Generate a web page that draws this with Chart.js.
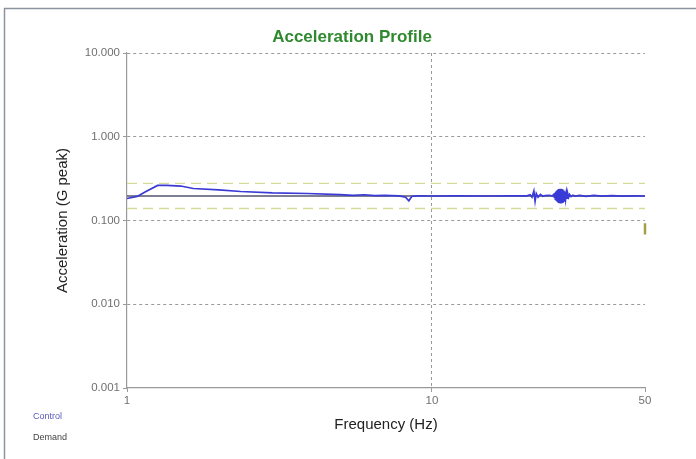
<!DOCTYPE html>
<html>
<head>
<meta charset="utf-8">
<script src="https://cdn.jsdelivr.net/npm/chart.js@4"></script>
<style>
  html, body { margin: 0; padding: 0; background: #fff; }
  canvas { display: block; }
</style>
</head>
<body>
<canvas id="profile" width="696" height="459"></canvas>
<script>
// ---------- DATA ----------
const controlFreq = [1.0, 1.08, 1.15, 1.26, 1.35, 1.5, 1.65, 2.0, 2.36, 3.0, 3.9, 5.0,
  5.5, 6.0, 6.5, 7.0, 7.8, 8.2, 8.4, 8.6, 9.0, 10, 12, 15, 18,
  20.5, 21.0, 21.3, 21.6, 21.8, 22.0, 22.3, 22.7, 23.1, 23.5, 24.3, 24.8,
  25.1, 25.2, 25.3, 25.4, 25.5, 25.6, 25.7, 25.8, 25.9, 26.0, 26.1, 26.2, 26.3, 26.4,
  26.5, 26.6, 26.7, 26.8, 26.9, 27.0, 27.1, 27.2, 27.3, 27.45, 27.6, 27.75, 27.9, 28.1, 28.3, 28.6,
  29.0, 29.5, 30.5, 32, 34, 36, 39, 42, 46, 50];
const controlAcc = [0.183, 0.194, 0.22, 0.262, 0.262, 0.258, 0.241, 0.232, 0.222, 0.214, 0.21, 0.204,
  0.2, 0.203, 0.198, 0.2, 0.197, 0.19, 0.172, 0.195, 0.197, 0.196, 0.197, 0.196, 0.197,
  0.197, 0.203, 0.19, 0.225, 0.17, 0.21, 0.19, 0.205, 0.195, 0.198, 0.2, 0.196,
  0.205, 0.19, 0.215, 0.18, 0.222, 0.175, 0.228, 0.17, 0.234, 0.166, 0.238, 0.164, 0.24, 0.163,
  0.24, 0.164, 0.238, 0.166, 0.234, 0.17, 0.228, 0.175, 0.222, 0.18, 0.215, 0.185, 0.21, 0.19, 0.205, 0.193,
  0.2, 0.196, 0.2, 0.194, 0.199, 0.195, 0.198, 0.195, 0.197, 0.196];

const demandFreq = [1, 50];
const demandAcc = [0.196, 0.196];
const upperAcc = [0.277, 0.277];
const lowerAcc = [0.139, 0.139];

const markFreq = [50, 50];
const markAcc = [0.093, 0.068];

const yTicks = [0.001, 0.01, 0.1, 1, 10];
const xTicks = [1, 10, 50];

const legendNames = ["Control", "Demand"];

// ---------- HELPERS ----------
function toPoints(xs, ys) {
  return xs.map((x, i) => ({ x: x, y: ys[i] }));
}

const GRID_GRAY = "#9a9a9a";
const TICK_GRAY = "#707070";

// frame, title and little text legend drawn straight on the canvas
const decorPlugin = {
  id: "decor",
  beforeDraw(chart) {
    const ctx = chart.ctx;
    ctx.save();
    ctx.fillStyle = "#fff";
    ctx.fillRect(0, 0, chart.width, chart.height);
    ctx.strokeStyle = "#8a94a0";
    ctx.lineWidth = 1.5;
    ctx.beginPath();
    ctx.moveTo(4.5, chart.height);
    ctx.lineTo(4.5, 8.5);
    ctx.lineTo(chart.width, 8.5);
    ctx.stroke();
    ctx.restore();
  },
  afterDraw(chart) {
    const ctx = chart.ctx;
    ctx.save();
    ctx.textAlign = "center";
    ctx.textBaseline = "middle";
    ctx.font = "bold 17px 'Liberation Sans', Arial, sans-serif";
    ctx.fillStyle = "#2f8a2f";
    ctx.fillText("Acceleration Profile", 352, 37);

    ctx.textAlign = "left";
    ctx.font = "9px 'Liberation Sans', Arial, sans-serif";
    ctx.fillStyle = "#5a5ac0";
    ctx.fillText(legendNames[0], 33, 417);
    ctx.fillStyle = "#444";
    ctx.fillText(legendNames[1], 33, 438);
    ctx.restore();
  }
};

// ---------- CHART ----------
const ctx = document.getElementById("profile").getContext("2d");
new Chart(ctx, {
  type: "scatter",
  data: {
    datasets: [
      {
        label: "Control",
        data: toPoints(controlFreq, controlAcc),
        showLine: true,
        borderColor: "#3a3ad6",
        borderWidth: 1.7,
        pointRadius: 0
      },
      {
        label: "Demand",
        data: toPoints(demandFreq, demandAcc),
        showLine: true,
        borderColor: "#55556e",
        borderWidth: 1.3,
        pointRadius: 0
      },
      {
        label: "Upper",
        data: toPoints(demandFreq, upperAcc),
        showLine: true,
        borderColor: "#d6da98",
        borderWidth: 1.3,
        borderDash: [10, 6],
        pointRadius: 0
      },
      {
        label: "Lower",
        data: toPoints(demandFreq, lowerAcc),
        showLine: true,
        borderColor: "#d6da98",
        borderWidth: 1.3,
        borderDash: [10, 6],
        pointRadius: 0
      },
      {
        label: "Mark",
        data: toPoints(markFreq, markAcc),
        showLine: true,
        borderColor: "#a4a040",
        borderWidth: 2.5,
        pointRadius: 0,
        clip: false
      }
    ]
  },
  options: {
    responsive: false,
    animation: false,
    layout: { padding: { top: 53, right: 51, left: 0, bottom: 0 } },
    plugins: {
      legend: { display: false },
      title: { display: false },
      tooltip: { enabled: false }
    },
    scales: {
      x: {
        type: "logarithmic",
        min: 1,
        max: 50,
        afterBuildTicks: (scale) => { scale.ticks = xTicks.map(v => ({ value: v })); },
        afterFit: (scale) => { scale.height = 71; },
        ticks: {
          callback: (v) => String(v),
          color: TICK_GRAY,
          font: { family: "'Liberation Sans', Arial, sans-serif", size: 11.5 },
          padding: 2,
          maxRotation: 0,
          autoSkip: false
        },
        grid: {
          color: (c) => (c.tick && c.tick.value === 10 ? GRID_GRAY : "rgba(0,0,0,0)"),
          tickColor: GRID_GRAY,
          tickLength: 4,
          lineWidth: 1
        },
        border: { display: true, color: "#999", width: 1.2, dash: [3, 3] },
        title: {
          display: true,
          text: "Frequency (Hz)",
          color: "#222",
          font: { family: "'Liberation Sans', Arial, sans-serif", size: 15 },
          padding: { top: 0, bottom: 25 }
        }
      },
      y: {
        type: "logarithmic",
        min: 0.001,
        max: 10,
        afterBuildTicks: (scale) => { scale.ticks = yTicks.map(v => ({ value: v })); },
        afterFit: (scale) => { scale.width = 127; },
        ticks: {
          callback: (v) => Number(v).toFixed(3),
          color: TICK_GRAY,
          font: { family: "'Liberation Sans', Arial, sans-serif", size: 11.5 },
          padding: 3,
          autoSkip: false
        },
        grid: {
          color: (c) => (c.tick && c.tick.value > 0.001 ? GRID_GRAY : "rgba(0,0,0,0)"),
          tickColor: GRID_GRAY,
          tickLength: 4,
          lineWidth: 1
        },
        border: { display: true, color: "#999", width: 1.2, dash: [3, 3] },
        title: {
          display: true,
          text: "Acceleration (G peak)",
          color: "#222",
          font: { family: "'Liberation Sans', Arial, sans-serif", size: 15 },
          padding: { top: 54, bottom: 0 }
        }
      }
    }
  },
  plugins: [decorPlugin]
});
</script>
</body>
</html>
